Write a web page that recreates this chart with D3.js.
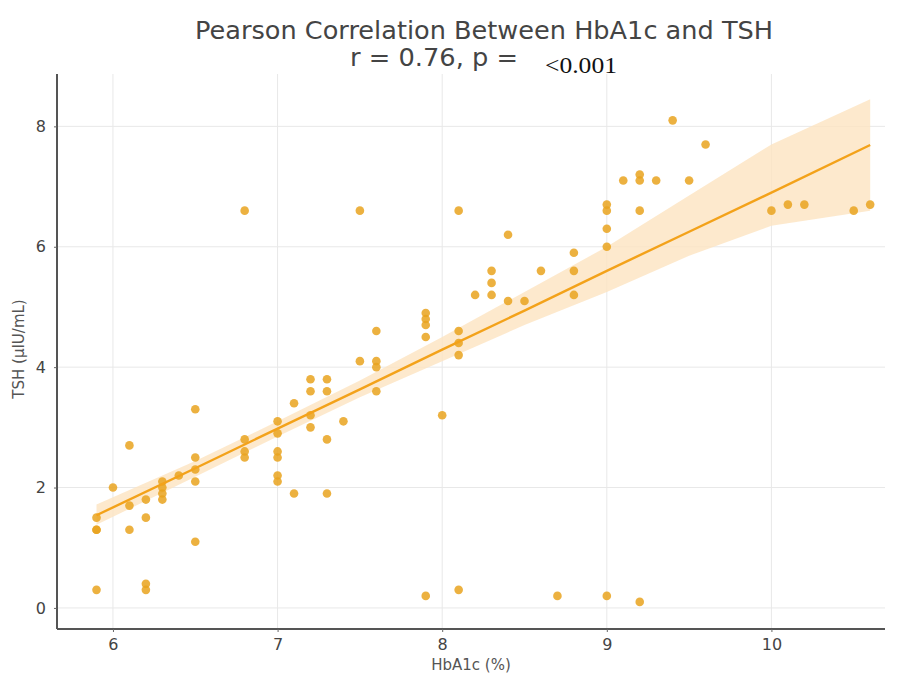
<!DOCTYPE html>
<html>
  <head>
    <meta charset="UTF-8">
    <title>Pearson Correlation Between HbA1c and TSH</title>
    <script src="https://d3js.org/d3.v7.min.js"></script>
    <style>
      body { margin: 0; background: #fff; }
      text { font-family: "DejaVu Sans", sans-serif; }
    </style>
  </head>
  <body>
    <svg id="chart" width="901" height="680"></svg>
    <script>
      // HbA1c (%) and TSH (µIU/mL) values
      const hba1c = [
        5.9, 5.9, 5.9, 5.9,
        6.0,
        6.1, 6.1, 6.1,
        6.2, 6.2, 6.2, 6.2,
        6.3, 6.3, 6.3, 6.3,
        6.4,
        6.5, 6.5, 6.5, 6.5, 6.5,
        6.8, 6.8, 6.8, 6.8,
        7.0, 7.0, 7.0, 7.0, 7.0, 7.0,
        7.1, 7.1,
        7.2, 7.2, 7.2, 7.2,
        7.3, 7.3, 7.3, 7.3,
        7.4,
        7.5, 7.5,
        7.6, 7.6, 7.6, 7.6,
        7.9, 7.9, 7.9, 7.9, 7.9,
        8.0,
        8.1, 8.1, 8.1, 8.1, 8.1,
        8.2,
        8.3, 8.3, 8.3,
        8.4, 8.4,
        8.5,
        8.6,
        8.7,
        8.8, 8.8, 8.8,
        9.0, 9.0, 9.0, 9.0, 9.0,
        9.1,
        9.2, 9.2, 9.2, 9.2,
        9.3,
        9.4,
        9.5,
        9.6,
        10.0, 10.1, 10.2,
        10.5, 10.6
      ];
      const tsh = [
        1.5, 1.3, 1.3, 0.3,
        2.0,
        2.7, 1.7, 1.3,
        1.8, 1.5, 0.4, 0.3,
        2.1, 2.0, 1.9, 1.8,
        2.2,
        3.3, 2.5, 2.3, 2.1, 1.1,
        6.6, 2.8, 2.6, 2.5,
        3.1, 2.9, 2.6, 2.5, 2.2, 2.1,
        3.4, 1.9,
        3.8, 3.6, 3.2, 3.0,
        3.8, 3.6, 2.8, 1.9,
        3.1,
        6.6, 4.1,
        4.6, 4.1, 4.0, 3.6,
        4.9, 4.8, 4.7, 4.5, 0.2,
        3.2,
        6.6, 4.6, 4.4, 4.2, 0.3,
        5.2,
        5.6, 5.4, 5.2,
        6.2, 5.1,
        5.1,
        5.6,
        0.2,
        5.9, 5.6, 5.2,
        6.7, 6.6, 6.3, 6.0, 0.2,
        7.1,
        7.2, 7.1, 6.6, 0.1,
        7.1,
        8.1,
        7.1,
        7.7,
        6.6, 6.7, 6.7,
        6.6, 6.7
      ];

      // regression line and its (bootstrap) confidence band
      const ciX  = [5.9, 6.5, 7.0, 7.5, 8.0, 8.5, 9.0, 9.5, 10.0, 10.6];
      const ciFit = [1.54, 2.32, 2.98, 3.63, 4.29, 4.94, 5.60, 6.25, 6.90, 7.69];
      const ciLo = [1.38, 2.18, 2.85, 3.50, 4.10, 4.70, 5.25, 5.85, 6.35, 6.60];
      const ciHi = [1.72, 2.44, 3.10, 3.78, 4.50, 5.25, 6.00, 6.85, 7.70, 8.45];

      const xTicks = [6, 7, 8, 9, 10];
      const yTicks = [0, 2, 4, 6, 8];

      const svg = d3.select('#chart');
      const margin = { left: 57, right: 16, top: 74, bottom: 51 };
      const width = 901, height = 680;

      const x = d3.scaleLinear()
        .domain([5.66, 10.69])
        .range([margin.left, width - margin.right]);
      const y = d3.scaleLinear()
        .domain([-0.35, 8.87])
        .range([height - margin.bottom, margin.top]);

      // grid
      svg.append('g')
        .selectAll('line')
        .data(xTicks)
        .join('line')
        .attr('x1', d => x(d)).attr('x2', d => x(d))
        .attr('y1', y.range()[0]).attr('y2', y.range()[1])
        .attr('stroke', '#e8e8e8').attr('stroke-width', 1);
      svg.append('g')
        .selectAll('line')
        .data(yTicks)
        .join('line')
        .attr('y1', d => y(d)).attr('y2', d => y(d))
        .attr('x1', x.range()[0]).attr('x2', x.range()[1])
        .attr('stroke', '#e8e8e8').attr('stroke-width', 1);

      const band = ciX.map((g, i) => ({ g, fit: ciFit[i], lo: ciLo[i], hi: ciHi[i] }));

      svg.append('path')
        .datum(band)
        .attr('fill', '#fde4c0')
        .attr('opacity', 0.8)
        .attr('d', d3.area().x(d => x(d.g)).y0(d => y(d.lo)).y1(d => y(d.hi)));

      svg.append('g')
        .selectAll('circle')
        .data(hba1c.map((v, i) => [v, tsh[i]]))
        .join('circle')
        .attr('cx', d => x(d[0]))
        .attr('cy', d => y(d[1]))
        .attr('r', 4.3)
        .attr('fill', '#e9a31f')
        .attr('opacity', 0.85);

      svg.append('path')
        .datum(band)
        .attr('fill', 'none')
        .attr('stroke', '#f3a21a')
        .attr('stroke-width', 2.4)
        .attr('d', d3.line().x(d => x(d.g)).y(d => y(d.fit)));

      // axes
      const xAxis = svg.append('g')
        .attr('transform', `translate(0,${y.range()[0]})`)
        .call(d3.axisBottom(x).tickValues(xTicks).tickFormat(d3.format('d')).tickSize(3).tickPadding(7));
      const yAxis = svg.append('g')
        .attr('transform', `translate(${x.range()[0]},0)`)
        .call(d3.axisLeft(y).tickValues(yTicks).tickFormat(d3.format('d')).tickSize(3).tickPadding(8));
      [xAxis, yAxis].forEach(a => {
        a.select('.domain').attr('stroke', '#555').attr('stroke-width', 2);
        a.selectAll('.tick line').attr('stroke', '#666');
        a.selectAll('.tick text')
          .attr('fill', '#444')
          .style('font-size', '16px')
          .style('font-family', '"DejaVu Sans", sans-serif');
      });
      xAxis.select('.domain').attr('d', `M${x.range()[0]},0H${x.range()[1]}`);
      yAxis.select('.domain').attr('d', `M0,${y.range()[0]}V${y.range()[1]}`);

      svg.append('text')
        .attr('x', 471)
        .attr('y', 670)
        .attr('text-anchor', 'middle')
        .attr('fill', '#555')
        .style('font-size', '15px')
        .text('HbA1c (%)');

      svg.append('text')
        .attr('transform', `translate(24,349) rotate(-90)`)
        .attr('text-anchor', 'middle')
        .attr('fill', '#555')
        .style('font-size', '15px')
        .text('TSH (µIU/mL)');

      svg.append('text')
        .attr('x', 484)
        .attr('y', 39)
        .attr('text-anchor', 'middle')
        .attr('fill', '#444')
        .style('font-size', '25px')
        .attr('textLength', 578)
        .attr('lengthAdjust', 'spacingAndGlyphs')
        .text('Pearson Correlation Between HbA1c and TSH');
      svg.append('text')
        .attr('x', 350)
        .attr('y', 66)
        .attr('fill', '#444')
        .style('font-size', '25px')
        .attr('textLength', 168)
        .attr('lengthAdjust', 'spacingAndGlyphs')
        .text('r = 0.76, p =');
      svg.append('text')
        .attr('x', 545)
        .attr('y', 73)
        .attr('fill', '#111')
        .style('font-family', '"Liberation Serif", serif')
        .style('font-size', '23px')
        .attr('textLength', 72)
        .attr('lengthAdjust', 'spacingAndGlyphs')
        .text('<0.001');
    </script>
  </body>
</html>
